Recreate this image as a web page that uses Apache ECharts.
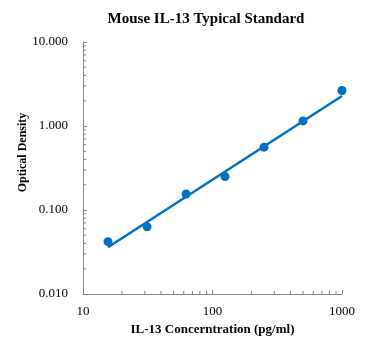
<!DOCTYPE html>
<html>
<head>
<meta charset="utf-8">
<script src="https://cdn.jsdelivr.net/npm/echarts@6/dist/echarts.min.js"></script>
<style>
html,body{margin:0;padding:0;background:#fff;}
#c{width:369px;height:349px;}
</style>
</head>
<body>
<div id="c"></div>
<script>
var titleText = 'Mouse IL-13 Typical Standard';
var xName = 'IL-13 Concerntration (pg/ml)';
var yName = 'Optical Density';
var concentrations = [15.6, 31.25, 62.5, 125, 250, 500, 1000];
var opticalDensity = [0.042, 0.063, 0.155, 0.25, 0.56, 1.15, 2.65];
var trendX = [15.6, 1000];
var trendY = [0.036, 2.28];
var xMinorTicks = [20, 30, 40, 50, 60, 70, 80, 90, 200, 300, 400, 500, 600, 700, 800, 900];
var yMinorTicks = [0.02, 0.03, 0.04, 0.05, 0.06, 0.07, 0.08, 0.09, 0.2, 0.3, 0.4, 0.5, 0.6, 0.7, 0.8, 0.9, 2, 3, 4, 5, 6, 7, 8, 9];

var font = '"Liberation Serif", "Times New Roman", serif';
var axisColor = '#868686';
var blue = '#0070C0';

var chart = echarts.init(document.getElementById('c'), null, {renderer: 'canvas'});

function pairs(xs, ys) { return xs.map(function (x, i) { return [x, ys[i]]; }); }

var option = {
  animation: false,
  backgroundColor: '#fff',
  title: {
    text: titleText,
    left: 201, textAlign: 'center', top: 7,
    textStyle: {fontFamily: font, fontWeight: 'bold', fontSize: 15, color: '#000'}
  },
  grid: {left: 83, right: 27, top: 42, bottom: 55},
  xAxis: {
    type: 'log', logBase: 10, min: 10, max: 1000,
    name: xName, nameLocation: 'middle', nameGap: 24,
    nameTextStyle: {fontFamily: font, fontWeight: 'bold', fontSize: 13, color: '#000'},
    axisLine: {lineStyle: {color: axisColor, width: 1}},
    axisTick: {show: true, inside: true, length: 4, lineStyle: {color: axisColor}},
    axisLabel: {fontFamily: font, fontSize: 13, color: '#000', margin: 11,
      formatter: function (v) { return String(Math.round(v)); }},
    splitLine: {show: false}
  },
  yAxis: {
    type: 'log', logBase: 10, min: 0.01, max: 10,
    name: yName, nameLocation: 'middle', nameGap: 54, nameRotate: 90, nameMoveOverlap: false,
    nameTextStyle: {fontFamily: font, fontWeight: 'bold', fontSize: 12, color: '#000', padding: [0, 0, 0, 31]},
    axisLine: {show: true, lineStyle: {color: axisColor, width: 1}},
    axisTick: {show: true, inside: true, length: 4, lineStyle: {color: axisColor}},
    axisLabel: {fontFamily: font, fontSize: 13, color: '#000', margin: 15,
      formatter: function (v) { return v.toFixed(3); }},
    splitLine: {show: false}
  },
  series: [
    {
      type: 'line', data: pairs(trendX, trendY), showSymbol: false, symbol: 'none',
      lineStyle: {color: blue, width: 2.5}, z: 2
    },
    {
      type: 'scatter', data: pairs(concentrations, opticalDensity),
      symbolSize: 9, itemStyle: {color: blue, opacity: 1}, z: 3
    },
    {
      type: 'custom', silent: true, z: 1,
      data: xMinorTicks.map(function (v) { return [v, 0.01]; }),
      renderItem: function (params, api) {
        var p = api.coord([api.value(0), api.value(1)]);
        return {type: 'line', shape: {x1: p[0], y1: p[1], x2: p[0], y2: p[1] - 3},
          style: {stroke: axisColor, lineWidth: 1}};
      }
    },
    {
      type: 'custom', silent: true, z: 1,
      data: yMinorTicks.map(function (v) { return [10, v]; }),
      renderItem: function (params, api) {
        var p = api.coord([api.value(0), api.value(1)]);
        return {type: 'line', shape: {x1: p[0], y1: p[1], x2: p[0] + 3, y2: p[1]},
          style: {stroke: axisColor, lineWidth: 1}};
      }
    }
  ]
};
chart.setOption(option);
</script>
</body>
</html>
